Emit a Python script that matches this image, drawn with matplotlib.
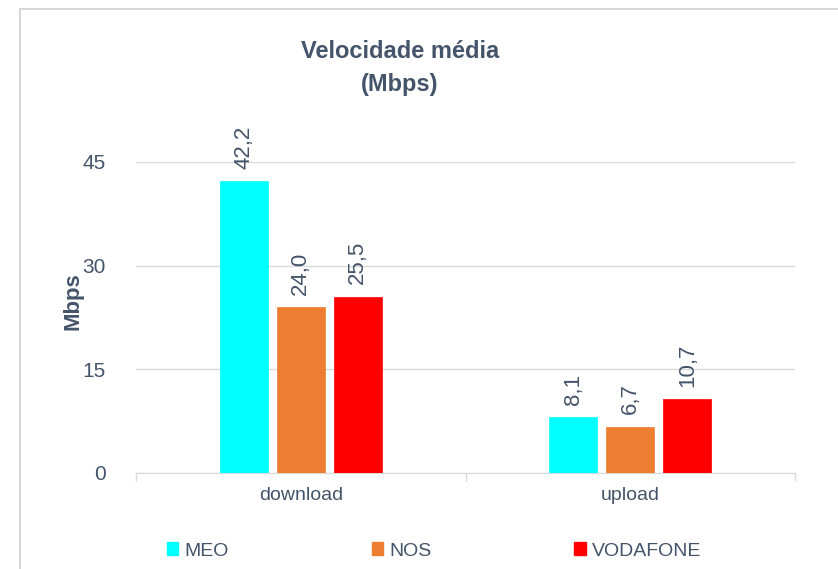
import matplotlib.pyplot as plt
from matplotlib.lines import Line2D
from matplotlib.patches import Patch
import numpy as np

categories = ['download', 'upload']
operators = ['MEO', 'NOS', 'VODAFONE']
meo = [42.2, 8.1]
nos = [24.0, 6.7]
vodafone = [25.5, 10.7]
colors = ['#00FFFF', '#ED7D31', '#FF0000']
yticks = [0, 15, 30, 45]

plt.rcParams['font.family'] = ['Liberation Sans', 'DejaVu Sans']
txt = '#44546A'

fig = plt.figure(figsize=(8.38, 5.69), dpi=100)
ax = fig.add_axes([136/838, 96/569, 659/838, 311/569])

x = np.arange(len(categories))
width = 0.146
step = 0.173
for i, (vals, c) in enumerate(zip([meo, nos, vodafone], colors)):
	pos = x + (i - 1)*step
	bars = ax.bar(pos, vals, width, color=c, edgecolor=c, linewidth=0.5, label=operators[i], zorder=3)
	for b, v in zip(bars, vals):
		ax.annotate(('%.1f' % v).replace('.', ','), (b.get_x() + b.get_width()/2, v),
					xytext=(0, 9), textcoords='offset points', rotation=90,
					ha='center', va='bottom', fontsize=16, color=txt,
					annotation_clip=False)

ax.set_xlim(-0.5, 1.5)
ax.set_ylim(0, 45)
ax.set_yticks(yticks)
ax.set_yticklabels([str(t) for t in yticks], fontsize=15, color=txt)
ax.set_xticks(x)
ax.set_xticklabels(categories, fontsize=14, color=txt)
ax.tick_params(axis='y', length=0, pad=22)
ax.tick_params(axis='x', length=0, pad=10)
# category separators on the bottom axis
ax.set_xticks([-0.5, 0.5, 1.5], minor=True)
ax.tick_params(axis='x', which='minor', length=6, color='#D9D9D9', width=1)
ax.grid(axis='y', color='#D9D9D9', linewidth=1, zorder=0)
for s in ['top', 'right', 'left']:
	ax.spines[s].set_visible(False)
ax.spines['bottom'].set_color('#D9D9D9')
ax.set_ylabel('Mbps', fontsize=16, fontweight='bold', color=txt)
ax.yaxis.set_label_coords(-0.08, 0.553)

fig.text(400/838, 1 - 68/569, 'Velocidade média\n(Mbps)', ha='center', va='center',
		 fontsize=17, fontweight='bold', color=txt, linespacing=1.6)

handles = [Patch(facecolor=c, edgecolor=c) for c in colors]
fig.legend(handles, operators, loc='center left', bbox_to_anchor=(157/838, 1 - 551/569),
		   ncol=3, frameon=False, handlelength=0.6, handleheight=0.6,
		   handletextpad=0.3, columnspacing=7.35, borderpad=0,
		   labelcolor=txt, prop={'family': ['Liberation Sans', 'DejaVu Sans'], 'size': 14})

# chart frame (only top and left edges visible)
fig.add_artist(Line2D([20/838, 20/838], [0, 1 - 9/569], color='#D0D0D0', lw=1.2))
fig.add_artist(Line2D([20/838, 1], [1 - 9/569, 1 - 9/569], color='#D0D0D0', lw=1.2))

plt.savefig('out.png', dpi=100)
